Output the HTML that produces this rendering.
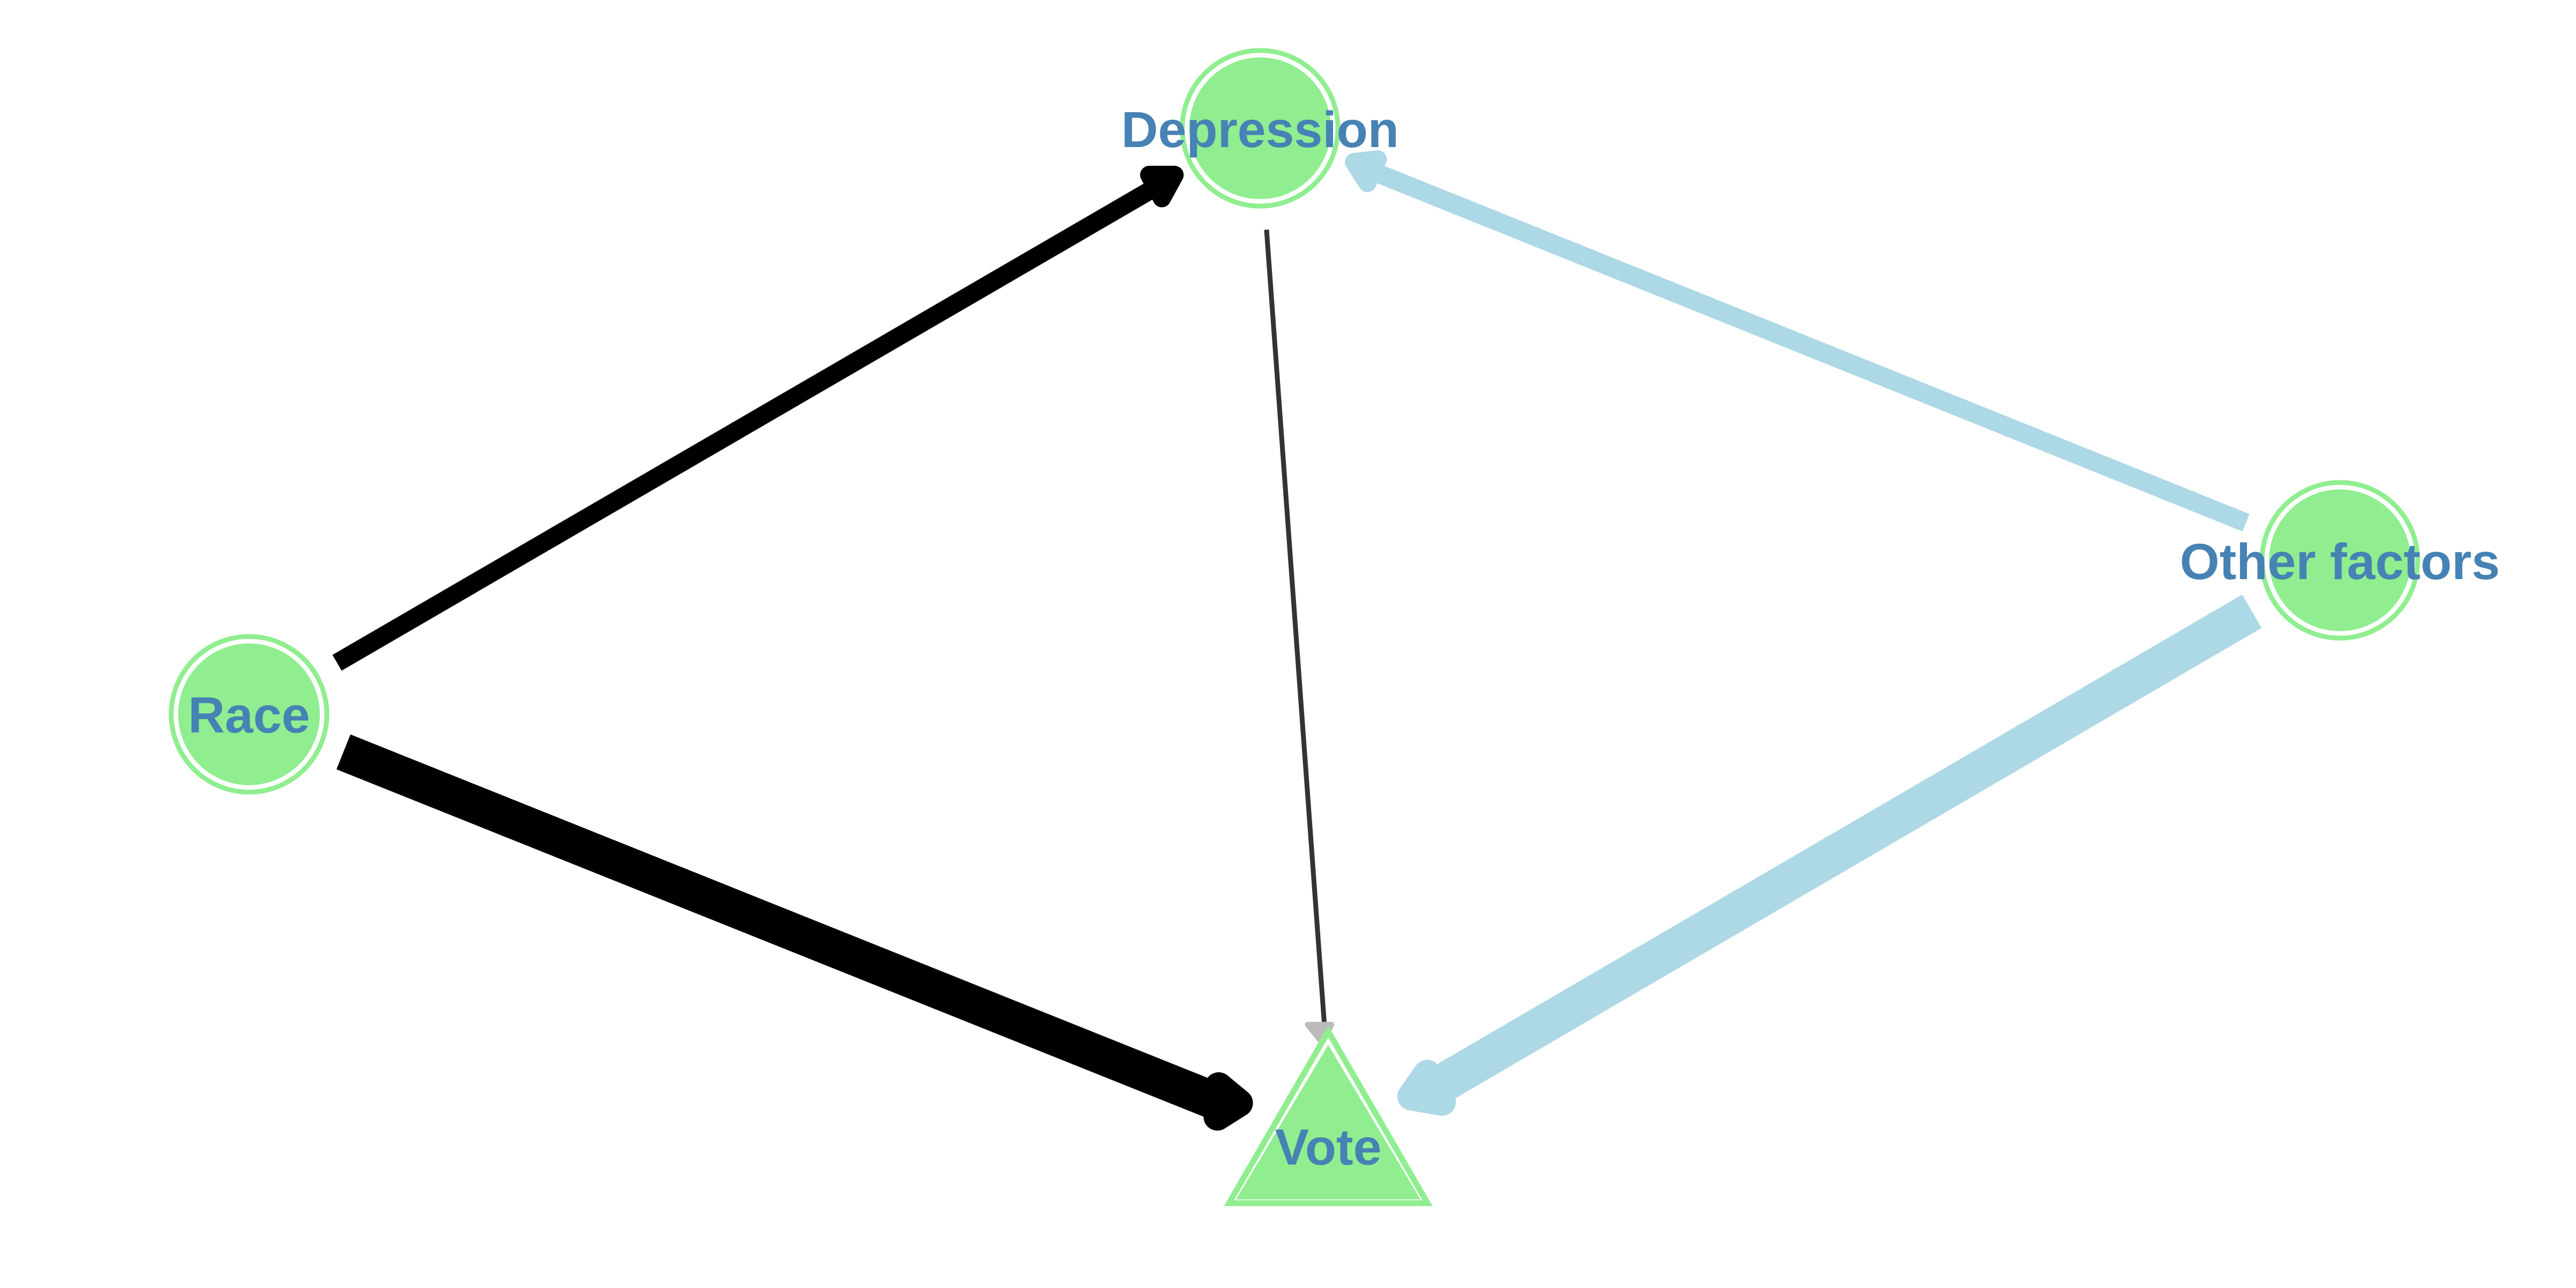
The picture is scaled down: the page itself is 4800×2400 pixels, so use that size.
<!DOCTYPE html>
<html><head><meta charset="utf-8"><style>
html,body{margin:0;padding:0;background:#fff;}
svg{display:block;}
text{font-family:"Liberation Sans",Arial,sans-serif;font-weight:bold;fill:#4682B4;font-size:95px;text-anchor:middle;}
</style></head><body>
<svg id="chart" width="4800" height="2400" viewBox="0 0 4800 2400" xmlns="http://www.w3.org/2000/svg">
<g id="edges"></g>
<g id="nodes"></g>
<g id="labels"></g>
</svg>
<script>
const nodeNames = ["Race", "Depression", "Vote", "Other factors"];
const nodeX = [464, 2348, 2475, 4360];
const nodeY = [1331, 239, 2110, 1044];
const nodeShape = ["circle", "circle", "triangle", "circle"];
const edgeFrom = [0, 0, 1, 3, 3];
const edgeTo = [1, 2, 2, 1, 2];
const edgeWidth = [34, 70, 9, 35, 72];
const edgeColor = ["#000000", "#000000", "#333333", "#ADD8E6", "#ADD8E6"];
const headColor = ["#000000", "#000000", "#bbbbbb", "#ADD8E6", "#ADD8E6"];
const edgeStart = [[628,1235],[640,1401],[2360,428],[4185,974],[4196,1139]];
const edgeEnd = [[2160,345],[2260,2050],[2468,1912],[2555,318],[2655,2038]];
const heads = [
  [[2127,317],[2203,317],[2165,387]],
  [[2261,2000],[2330,2057],[2257,2103]],
  [[2432,1907],[2485,1907],[2464,1947]],
  [[2509,295],[2580,287],[2549,358]],
  [[2660,1975],[2606,2052],[2710,2070]]
];
const labelBaseline = [1365, 274, 2170, 1079];
const NS = "http://www.w3.org/2000/svg";
const gE = document.getElementById("edges"), gN = document.getElementById("nodes"), gL = document.getElementById("labels");
function mk(tag, attrs, parent){const e=document.createElementNS(NS,tag);for(const k in attrs)e.setAttribute(k,attrs[k]);parent.appendChild(e);return e;}
for(let i=0;i<edgeFrom.length;i++){
  const ln = mk("line",{x1:edgeStart[i][0],y1:edgeStart[i][1],x2:edgeEnd[i][0],y2:edgeEnd[i][1],stroke:edgeColor[i],"stroke-width":edgeWidth[i]},gE);
  
  
  const h = heads[i];
  const cx = (h[0][0]+h[1][0]+h[2][0])/3, cy = (h[0][1]+h[1][1]+h[2][1])/3;
  const heavy = edgeWidth[i] > 50;
  const k = heavy ? 0.55 : (edgeWidth[i] > 20 ? 0.62 : 0.85);
  const pts = h.map(p => [(cx + (p[0]-cx)*k).toFixed(1), (cy + (p[1]-cy)*k).toFixed(1)].join(",")).join(" ");
  const sw = heavy ? 52 : (edgeWidth[i] > 20 ? 34 : 10);
  const hd = mk("polygon",{points:pts,fill:headColor[i],stroke:headColor[i],"stroke-width":sw,"stroke-linejoin":"round"},gE);
  
  
}
for(let i=0;i<nodeNames.length;i++){
  const g = mk("g",{},gN);
  
  
  const x=nodeX[i], y=nodeY[i];
  if(nodeShape[i]==="circle"){
    mk("circle",{cx:x,cy:y,r:145,fill:"none",stroke:"#90EE90","stroke-width":9},g);
    mk("circle",{cx:x,cy:y,r:132,fill:"#90EE90"},g);
  } else {
    mk("polygon",{points:"2475,1913 2280,2248 2670,2248",fill:"#fff",stroke:"none"},g);
    mk("polygon",{points:"2475,1922 2290,2242 2660,2242",fill:"none",stroke:"#90EE90","stroke-width":11},g);
    mk("polygon",{points:"2475,1947 2303,2235 2647,2235",fill:"#90EE90"},g);
  }
  const t = mk("text",{x:x,y:labelBaseline[i]},gL);
  t.textContent = nodeNames[i];
  
  
}
</script>
</body></html>
